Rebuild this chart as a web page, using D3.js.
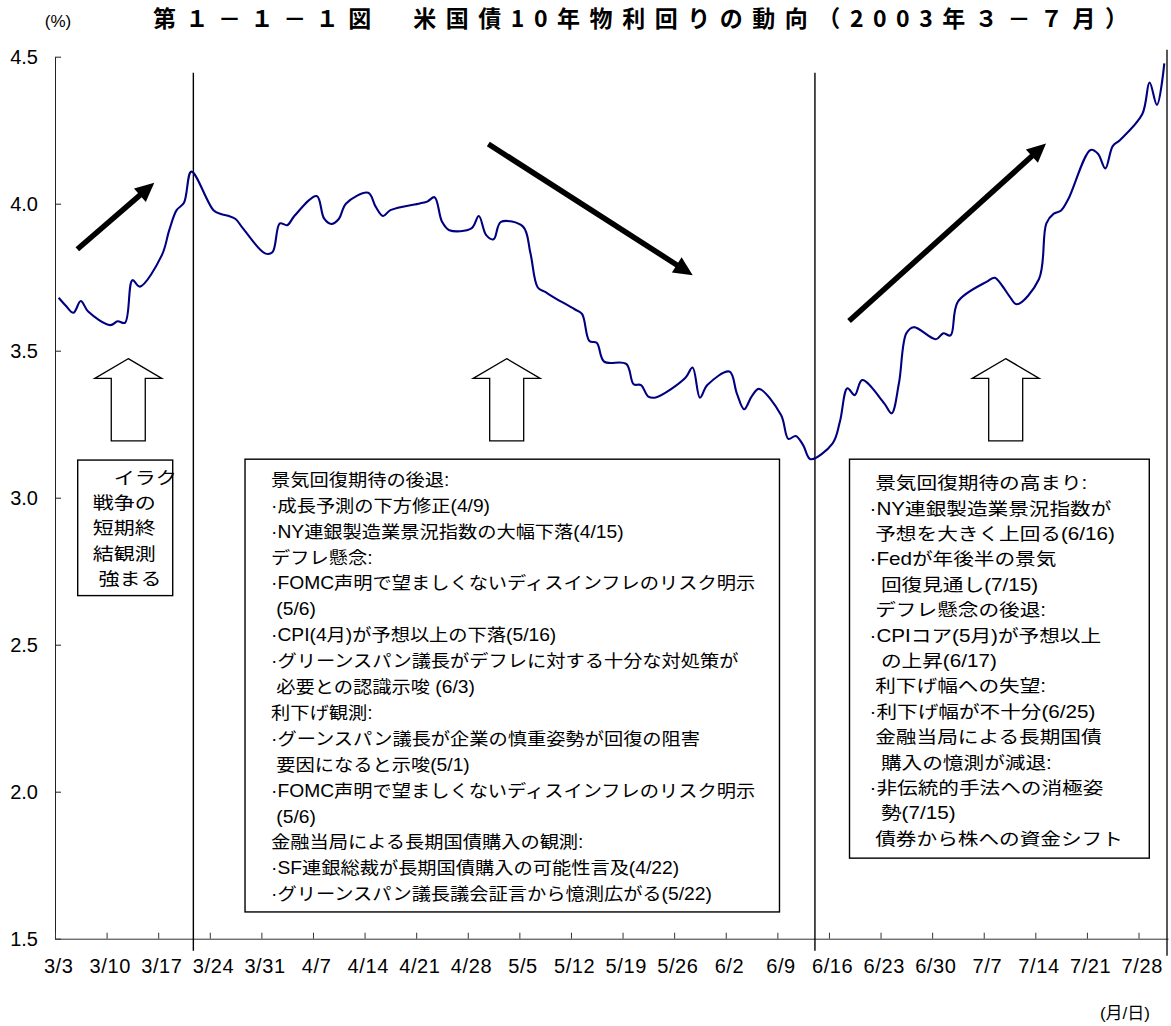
<!DOCTYPE html>
<html>
<head>
<meta charset="utf-8">
<script src="https://cdn.jsdelivr.net/npm/d3@7"></script>
<style>
  html, body { margin: 0; padding: 0; background: #fff; }
  svg { display: block; }
</style>
</head>
<body>
<svg id="chart" width="1171" height="1026"></svg>
<script>
// ---- Data: US 10-year Treasury yield, daily close (%), Mar–Jul 2003 ----
const tradeDates = [
  "3/3","3/4","3/5","3/6","3/7","3/10","3/11","3/12","3/13","3/14",
  "3/17","3/18","3/19","3/20","3/21","3/24","3/25","3/26","3/27","3/28","3/31",
  "4/1","4/2","4/3","4/4","4/7","4/8","4/9","4/10","4/11","4/14","4/15","4/16","4/17",
  "4/21","4/22","4/23","4/24","4/25","4/28","4/29","4/30",
  "5/1","5/2","5/5","5/6","5/7","5/8","5/9","5/12","5/13","5/14","5/15","5/16",
  "5/19","5/20","5/21","5/22","5/23","5/27","5/28","5/29","5/30",
  "6/2","6/3","6/4","6/5","6/6","6/9","6/10","6/11","6/12","6/13",
  "6/16","6/17","6/18","6/19","6/20","6/23","6/24","6/25","6/26","6/27","6/30",
  "7/1","7/2","7/3","7/7","7/8","7/9","7/10","7/11","7/14","7/15","7/16","7/17","7/18",
  "7/21","7/22","7/23","7/24","7/25","7/28","7/29","7/30","7/31"
];
const yields = [
  3.68, 3.652, 3.629, 3.669, 3.633, 3.587, 3.60, 3.595, 3.74, 3.718,
  3.825, 3.91, 3.978, 4.003, 4.109, 3.978, 3.965, 3.959, 3.948, 3.916, 3.831,
  3.835, 3.933, 3.927, 3.959, 4.026, 3.95, 3.931, 3.948, 4.001, 4.037, 3.99, 3.958, 3.978,
  4.001, 4.007, 4.022, 3.939, 3.91, 3.916, 3.958, 3.893,
  3.879, 3.938, 3.922, 3.832, 3.715, 3.70, 3.684, 3.641, 3.625, 3.533, 3.527, 3.463,
  3.455, 3.386, 3.383, 3.344, 3.341, 3.407, 3.443, 3.340, 3.383,
  3.429, 3.355, 3.301, 3.344, 3.370, 3.281, 3.20, 3.21, 3.179, 3.131,
  3.185, 3.26, 3.372, 3.349, 3.40, 3.321, 3.287, 3.39, 3.559, 3.58, 3.539,
  3.559, 3.552, 3.667, 3.736, 3.748, 3.721, 3.685, 3.658, 3.744, 3.933, 3.966, 3.977, 4.017,
  4.183, 4.17, 4.12, 4.196, 4.217, 4.304, 4.412, 4.336, 4.477
];
const weekLabels = [
  "3/3","3/10","3/17","3/24","3/31","4/7","4/14","4/21","4/28","5/5","5/12",
  "5/19","5/26","6/2","6/9","6/16","6/23","6/30","7/7","7/14","7/21","7/28"
];
const yTickValues = [1.5, 2.0, 2.5, 3.0, 3.5, 4.0, 4.5];

const titleText = "第１－１－１図　米国債10年物利回りの動向（2003年３－７月）";
const yUnitText = "(%)";
const xUnitText = "(月/日)";

const leftNote = ["　イラク", "戦争の", "短期終", "結観測", " 強まる"];
const middleNote = [
  "景気回復期待の後退:",
  "·成長予測の下方修正(4/9)",
  "·NY連銀製造業景況指数の大幅下落(4/15)",
  "デフレ懸念:",
  "·FOMC声明で望ましくないディスインフレのリスク明示",
  " (5/6)",
  "·CPI(4月)が予想以上の下落(5/16)",
  "·グリーンスパン議長がデフレに対する十分な対処策が",
  " 必要との認識示唆 (6/3)",
  "利下げ観測:",
  "·グーンスパン議長が企業の慎重姿勢が回復の阻害",
  " 要因になると示唆(5/1)",
  "·FOMC声明で望ましくないディスインフレのリスク明示",
  " (5/6)",
  "金融当局による長期国債購入の観測:",
  "·SF連銀総裁が長期国債購入の可能性言及(4/22)",
  "·グリーンスパン議長議会証言から憶測広がる(5/22)"
];
const rightNote = [
  " 景気回復期待の高まり:",
  "·NY連銀製造業景況指数が",
  " 予想を大きく上回る(6/16)",
  "·Fedが年後半の景気",
  "  回復見通し(7/15)",
  " デフレ懸念の後退:",
  "·CPIコア(5月)が予想以上",
  "  の上昇(6/17)",
  " 利下げ幅への失望:",
  "·利下げ幅が不十分(6/25)",
  " 金融当局による長期国債",
  "  購入の憶測が減退:",
  "·非伝統的手法への消極姿",
  "  勢(7/15)",
  " 債券から株への資金シフト"
];

// ---- Annotation placement, in chart units (days after 3/3, yield %) ----
const dividerDays = [18.77, 103.1];
const dividerSpan = [4.445, 1.459];
const trendArrows = [
  { from: [3.03, 3.845], to: [13.47, 4.071] },
  { from: [58.79, 4.203], to: [86.52, 3.757] },
  { from: [107.73, 3.601], to: [134.45, 4.205] }
];
const blockArrowDays = [9.94, 61.28, 128.98];
const blockArrowLevels = { tip: 3.473, neck: 3.406, base: 3.193 };
const noteBoxes = [
  { lines: leftNote,   d0: 3.08,   d1: 15.97,  top: 3.128, bottom: 2.667, padX: 15, padY: 18,   lineH: 25.2, sx: 1.2 },
  { lines: middleNote, d0: 25.78,  d1: 98.29,  top: 3.131, bottom: 1.591, padX: 26, padY: 20.5, lineH: 25.9, sx: 1.1 },
  { lines: rightNote,  d0: 107.79, d1: 148.46, top: 3.131, bottom: 1.774, padX: 20, padY: 24,   lineH: 25.4, sx: 1.18 }
];

// ---- Scales ----
const DAY = 864e5;
const start = Date.UTC(2003, 2, 3);
const parseMD = s => { const [m, d] = s.split("/").map(Number); return new Date(Date.UTC(2003, m - 1, d)); };
const x = d3.scaleUtc().domain([new Date(start), new Date(Date.UTC(2003, 7, 1))]).range([55, 1168]);
const y = d3.scaleLinear().domain([1.5, 4.5]).range([938.7, 56.7]);
const xDay = off => x(new Date(start + off * DAY));
const xMid = date => x(new Date(date.getTime() + DAY / 2));   // centre of a day slot

const series = tradeDates.map((s, i) => ({ date: parseMD(s), v: yields[i] }));

const svg = d3.select("#chart");
const latin = "'Liberation Sans', Arial, sans-serif";
const jp = "'Liberation Sans', 'Noto Sans CJK JP', sans-serif";

// ---- Title and unit labels ----
svg.append("text")
  .attr("x", 153).attr("y", 27)
  .attr("font-family", "'Noto Sans CJK JP', sans-serif")
  .attr("font-weight", 700).attr("font-size", 23)
  .attr("textLength", 975).attr("lengthAdjust", "spacing")
  .text(titleText);

svg.append("text")
  .attr("x", 58).attr("y", 27).attr("text-anchor", "middle")
  .attr("font-family", latin).attr("font-size", 17)
  .text(yUnitText);

svg.append("text")
  .attr("x", 1150).attr("y", 1019).attr("text-anchor", "end")
  .attr("font-family", jp).attr("font-size", 17)
  .text(xUnitText);

// ---- Axes ----
const yAxis = d3.axisLeft(y)
  .tickValues(yTickValues).tickFormat(d3.format(".1f"))
  .tickSize(-6).tickSizeOuter(0).tickPadding(17);
const gy = svg.append("g").attr("transform", `translate(${x.range()[0]},0)`).call(yAxis);
gy.attr("font-size", 20).attr("font-family", latin).attr("color", "#222");
gy.selectAll("text").attr("fill", "#000");

const mondays = weekLabels.map(parseMD);
const xAxis = d3.axisBottom(x).tickValues(mondays).tickFormat("").tickSize(-6).tickSizeOuter(0);
svg.append("g").attr("transform", `translate(0,${y(1.5)})`).call(xAxis).attr("color", "#333");

svg.append("g").selectAll("text").data(weekLabels).join("text")
  .attr("x", d => xMid(parseMD(d)))
  .attr("y", y(1.5) + 34)
  .attr("text-anchor", "middle")
  .attr("font-family", latin).attr("font-size", 20)
  .attr("letter-spacing", 0.6)
  .text(d => d);

// right frame edge
svg.append("line")
  .attr("x1", x.range()[1] - 1).attr("x2", x.range()[1] - 1)
  .attr("y1", y(4.5) - 7).attr("y2", y(1.5) + 17)
  .attr("stroke", "#111").attr("stroke-width", 1.4);

// ---- Event dividers ----
svg.append("g").selectAll("line").data(dividerDays).join("line")
  .attr("x1", d => xDay(d)).attr("x2", d => xDay(d))
  .attr("y1", y(dividerSpan[0])).attr("y2", y(dividerSpan[1]))
  .attr("stroke", "#000").attr("stroke-width", 1.4);

// ---- Yield line ----
const line = d3.line()
  .x(d => xMid(d.date))
  .y(d => y(d.v))
  .curve(d3.curveCatmullRom.alpha(0.5));
svg.append("path").datum(series)
  .attr("d", line)
  .attr("fill", "none")
  .attr("stroke", "#000080")
  .attr("stroke-width", 2.1)
  .attr("stroke-linejoin", "round");

// ---- Trend arrows ----
const gTrend = svg.append("g");
trendArrows.forEach(a => {
  const x0 = xDay(a.from[0]), y0 = y(a.from[1]);
  const x1 = xDay(a.to[0]), y1 = y(a.to[1]);
  const len = Math.hypot(x1 - x0, y1 - y0);
  const ux = (x1 - x0) / len, uy = (y1 - y0) / len;
  const headL = 19, headW = 9;
  const bx = x1 - ux * headL, by = y1 - uy * headL;
  gTrend.append("line")
    .attr("x1", x0).attr("y1", y0).attr("x2", bx + ux * 2).attr("y2", by + uy * 2)
    .attr("stroke", "#000").attr("stroke-width", 5.5);
  gTrend.append("path")
    .attr("d", `M${x1},${y1}L${bx - uy * headW},${by + ux * headW}L${bx + uy * headW},${by - ux * headW}Z`)
    .attr("fill", "#000");
});

// ---- Hollow block arrows pointing up to the curve ----
svg.append("g").selectAll("path").data(blockArrowDays).join("path")
  .attr("d", d => {
    const cx = xDay(d), hw = 33.5, sw = 17;
    const yt = y(blockArrowLevels.tip), yn = y(blockArrowLevels.neck), yb = y(blockArrowLevels.base);
    return `M${cx},${yt}L${cx + hw},${yn}L${cx + sw},${yn}L${cx + sw},${yb}L${cx - sw},${yb}L${cx - sw},${yn}L${cx - hw},${yn}Z`;
  })
  .attr("fill", "#fff").attr("stroke", "#000").attr("stroke-width", 1.3);

// ---- Note boxes ----
const fs = 17.5;
noteBoxes.forEach(b => {
  const left = xDay(b.d0), right = xDay(b.d1), top = y(b.top), bottom = y(b.bottom);
  const g = svg.append("g");
  g.append("rect")
    .attr("x", left).attr("y", top)
    .attr("width", right - left).attr("height", bottom - top)
    .attr("fill", "#fff").attr("stroke", "#000").attr("stroke-width", 1.4);
  g.selectAll("text").data(b.lines).join("text")
    .attr("transform", (t, i) => `translate(${left + b.padX},${top + b.padY + i * b.lineH}) scale(${b.sx},1)`)
    .attr("dominant-baseline", "central")
    .attr("font-family", jp).attr("font-size", fs)
    .style("white-space", "pre")
    .text(t => t);
});
</script>
</body>
</html>
